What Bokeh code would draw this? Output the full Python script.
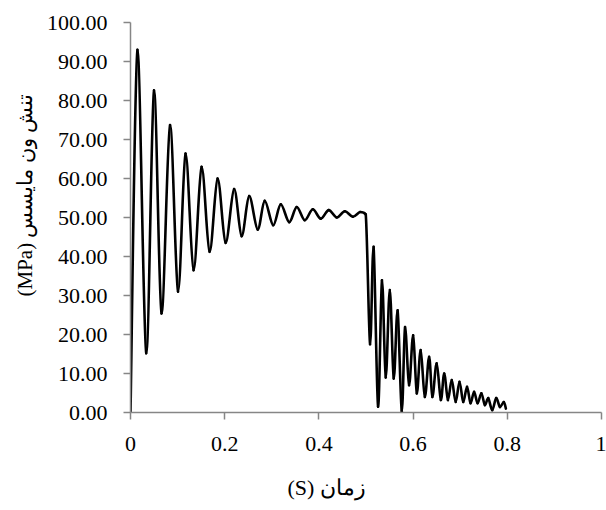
from bokeh.plotting import figure
from bokeh.models import (ColumnDataSource, FixedTicker, NumeralTickFormatter, PrintfTickFormatter,
                          Range1d, Title, LinearAxis)
from bokeh.embed import file_html
from bokeh.resources import INLINE

# (extrema and corner points of the curve)
time_s = [0.000, 0.0149, 0.0335, 0.0500, 0.0660, 0.0840, 0.1010, 0.1170, 0.1340, 0.1510,
          0.1680, 0.1850, 0.2020, 0.2200, 0.2360, 0.2520, 0.2700, 0.2850, 0.3030, 0.3190,
          0.3370, 0.3530, 0.3700, 0.3870, 0.4040, 0.4210, 0.4380, 0.4550, 0.4720, 0.4875,
          0.4995, 0.5087, 0.5160, 0.5257, 0.5340, 0.5420, 0.5505, 0.5590, 0.5670, 0.5760,
          0.5830, 0.5915, 0.6000, 0.6080, 0.6160, 0.6250, 0.6340, 0.6410, 0.6500, 0.6590,
          0.6660, 0.6740, 0.6820, 0.6905, 0.6985, 0.7065, 0.7145, 0.7220, 0.7295, 0.7370,
          0.7450, 0.7525, 0.7595, 0.7680, 0.7765, 0.7845, 0.7925, 0.7970]
stress_mpa = [0.0, 93.0, 15.2, 82.6, 25.4, 73.7, 31.0, 66.4, 36.5, 63.0,
              41.2, 60.0, 43.5, 57.3, 45.2, 55.5, 46.9, 54.3, 48.0, 53.4,
              48.8, 52.7, 49.3, 52.1, 49.7, 51.9, 50.0, 51.6, 50.2, 51.4,
              50.8, 17.5, 42.5, 1.5, 33.9, 9.0, 31.4, 8.7, 26.2, 0.3,
              21.9, 7.0, 19.8, 4.9, 16.0, 4.0, 14.3, 4.0, 12.6, 3.2,
              10.0, 3.2, 8.3, 2.7, 7.9, 2.7, 6.6, 2.4, 5.3, 2.4,
              4.9, 1.9, 3.7, 0.6, 3.7, 1.4, 2.7, 1.0]

y_ticks = [0, 10, 20, 30, 40, 50, 60, 70, 80, 90, 100]
x_ticks = [0, 0.2, 0.4, 0.6, 0.8, 1.0]
x_title = "(S) زمان"
y_title = "(MPa) تنش ون مایسس"

# Smoothed line drawn as Bezier segments through the data points (no overshoot past a segment's ends)
n = len(time_s)
x0, y0, x1, y1, cx0, cy0, cx1, cy1 = [], [], [], [], [], [], [], []
for i in range(n - 1):
    im = max(i - 1, 0)
    ip2 = min(i + 2, n - 1)
    ya, yb = stress_mpa[i], stress_mpa[i + 1]
    lo, hi = min(ya, yb), max(ya, yb)
    x0.append(time_s[i]); y0.append(ya)
    x1.append(time_s[i + 1]); y1.append(yb)
    cx0.append(time_s[i] + (time_s[i + 1] - time_s[im]) / 6.0)
    cy0.append(min(max(ya + (yb - stress_mpa[im]) / 6.0, lo), hi))
    cx1.append(time_s[i + 1] - (time_s[ip2] - time_s[i]) / 6.0)
    cy1.append(min(max(yb - (stress_mpa[ip2] - ya) / 6.0, lo), hi))
src = ColumnDataSource(dict(x0=x0, y0=y0, x1=x1, y1=y1, cx0=cx0, cy0=cy0, cx1=cx1, cy1=cy1))

FONT = "Liberation Serif"
AX = "#868686"

p = figure(width=606, height=510, output_backend="svg", toolbar_location=None,
           x_range=Range1d(0, 1), y_range=Range1d(0, 100),
           min_border_left=130, min_border_right=5, min_border_top=22, min_border_bottom=98)
p.outline_line_color = None
p.xgrid.grid_line_color = None
p.ygrid.grid_line_color = None
p.background_fill_color = "white"
p.border_fill_color = "white"

p.bezier(x0="x0", y0="y0", x1="x1", y1="y1", cx0="cx0", cy0="cy0", cx1="cx1", cy1="cy1",
         source=src, line_color="black", line_width=2.6, line_cap="round")

for ax in (p.xaxis[0], p.yaxis[0]):
    ax.axis_line_color = AX
    ax.axis_line_width = 1.5
    ax.major_tick_line_color = AX
    ax.major_tick_line_width = 1.5
    ax.major_tick_out = 7
    ax.major_tick_in = 0
    ax.minor_tick_line_color = None
    ax.major_label_text_font = FONT
    ax.major_label_text_font_size = "22px"
    ax.major_label_text_color = "black"

p.yaxis.ticker = FixedTicker(ticks=y_ticks)
p.yaxis.formatter = NumeralTickFormatter(format="0.00")
p.yaxis.major_label_standoff = 16
p.xaxis.ticker = FixedTicker(ticks=x_ticks)
p.xaxis.formatter = NumeralTickFormatter(format="0.[0]")
p.xaxis.major_label_standoff = 17

# blank (white-on-white) spacer between the x tick labels and the x title
spacer = LinearAxis(ticker=FixedTicker(ticks=[0.97]), formatter=PrintfTickFormatter(format=""),
                    axis_line_color=None, major_tick_line_color="white", major_tick_line_width=1,
                    minor_tick_line_color=None, major_tick_out=19, major_tick_in=0,
                    major_label_standoff=0, major_label_text_font_size="1px")
p.add_layout(spacer, "below")

tx = Title(text=x_title, align="left", offset=157, text_font=FONT, text_font_size="22px",
           text_font_style="normal", text_color="black", standoff=0)
p.add_layout(tx, "below")
ty = Title(text=y_title, align="left", offset=116, text_font=FONT, text_font_size="21px",
           text_font_style="normal", text_color="black", standoff=13)
p.add_layout(ty, "left")

open("out.html", "w").write(file_html(p, INLINE))
